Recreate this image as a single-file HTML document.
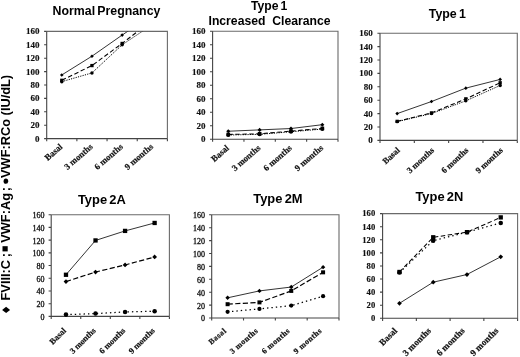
<!DOCTYPE html>
<html><head><meta charset="utf-8"><style>
html,body{margin:0;padding:0;background:#fff;}
body{width:520px;height:357px;overflow:hidden;}
svg{display:block;filter:grayscale(1) blur(0.35px);}
</style></head><body>
<svg width="520" height="357" viewBox="0 0 520 357">
<defs>
<clipPath id="cp1"><rect x="46.7" y="31.4" width="120.7" height="107.2"/></clipPath>
<clipPath id="cp2"><rect x="212.6" y="31.3" width="125.4" height="107.9"/></clipPath>
<clipPath id="cp3"><rect x="380" y="33.2" width="137.3" height="107.2"/></clipPath>
<clipPath id="cp4"><rect x="51.2" y="214.7" width="118.2" height="101.7"/></clipPath>
<clipPath id="cp5"><rect x="211.7" y="214.8" width="127.3" height="103.2"/></clipPath>
<clipPath id="cp6"><rect x="382.6" y="213.6" width="135" height="104.7"/></clipPath>
</defs>
<text x="106.5" y="15" text-anchor="middle" font-family='"Liberation Sans", sans-serif' font-weight="bold" font-size="12.35" word-spacing="-1.3" fill="#000">Normal Pregnancy</text>
<path d="M46.7 31.4H167.4V138.6" fill="none" stroke="#6a6a6a" stroke-width="1.1"/>
<path d="M46.7 31.4V138.6H167.4M44.1 138.6H46.7M44.1 125.2H46.7M44.1 111.8H46.7M44.1 98.4H46.7M44.1 85H46.7M44.1 71.6H46.7M44.1 58.2H46.7M44.1 44.8H46.7M44.1 31.4H46.7M46.7 138.6V141.2M76.88 138.6V141.2M107.05 138.6V141.2M137.23 138.6V141.2M167.4 138.6V141.2" fill="none" stroke="#444" stroke-width="1.1"/>
<g font-family='"Liberation Serif", serif' font-weight="bold" font-size="9" text-anchor="end" fill="#111" stroke="#111" stroke-width="0.15"><text x="39.5" y="141.57">0</text><text x="39.5" y="128.17">20</text><text x="39.5" y="114.77">40</text><text x="39.5" y="101.37">60</text><text x="39.5" y="87.97">80</text><text x="39.5" y="74.57">100</text><text x="39.5" y="61.17">120</text><text x="39.5" y="47.77">140</text><text x="39.5" y="34.37">160</text></g>
<g font-family='"Liberation Serif", serif' font-weight="bold" font-size="8.8" text-anchor="end" fill="#111" stroke="#111" stroke-width="0.2" letter-spacing="0"><text transform="translate(61.19 145.2) rotate(-41)" x="0" y="3.08">Basal</text><text transform="translate(91.36 145.2) rotate(-41)" x="0" y="3.08">3 months</text><text transform="translate(121.54 145.2) rotate(-41)" x="0" y="3.08">6 months</text><text transform="translate(151.71 145.2) rotate(-41)" x="0" y="3.08">9 months</text></g>
<g clip-path="url(#cp1)">
<path d="M61.79 74.95L91.96 56.19L122.14 35.09L152.31 14.65" fill="none" stroke="#000" stroke-width="0.8"/>
<path d="M61.79 80.31L91.96 65.57L122.14 43.46L152.31 20.01" fill="none" stroke="#000" stroke-width="1.05" stroke-dasharray="4.5 2.5"/>
<path d="M61.79 81.65L91.96 72.94L122.14 44.8L152.31 24.7" fill="none" stroke="#000" stroke-width="1" stroke-dasharray="1.2 1.2"/>
</g>
<g fill="#000">
<path d="M61.79 73.14L63.6 74.95L61.79 76.77L59.97 74.95Z"/>
<path d="M91.96 54.38L93.78 56.19L91.96 58L90.15 56.19Z"/>
<path d="M122.14 33.27L123.95 35.09L122.14 36.9L120.32 35.09Z"/>
<rect x="60.14" y="78.66" width="3.3" height="3.3"/>
<rect x="90.31" y="63.92" width="3.3" height="3.3"/>
<rect x="120.49" y="41.81" width="3.3" height="3.3"/>
<circle cx="61.79" cy="81.65" r="1.73"/>
<circle cx="91.96" cy="72.94" r="1.73"/>
<circle cx="122.14" cy="44.8" r="1.73"/>
</g>
<text x="269.2" y="10.1" text-anchor="middle" font-family='"Liberation Sans", sans-serif' font-weight="bold" font-size="12.2" word-spacing="-1.3" fill="#000">Type 1</text>
<text x="269.5" y="24.9" text-anchor="middle" font-family='"Liberation Sans", sans-serif' font-weight="bold" font-size="12.2" word-spacing="0" fill="#000">Increased&#160; Clearance</text>
<path d="M212.6 31.3H338V139.2" fill="none" stroke="#6a6a6a" stroke-width="1.1"/>
<path d="M212.6 31.3V139.2H338M210 139.2H212.6M210 125.71H212.6M210 112.22H212.6M210 98.74H212.6M210 85.25H212.6M210 71.76H212.6M210 58.27H212.6M210 44.79H212.6M210 31.3H212.6M212.6 139.2V141.8M243.95 139.2V141.8M275.3 139.2V141.8M306.65 139.2V141.8M338 139.2V141.8" fill="none" stroke="#444" stroke-width="1.1"/>
<g font-family='"Liberation Serif", serif' font-weight="bold" font-size="9" text-anchor="end" fill="#111" stroke="#111" stroke-width="0.15"><text x="205.4" y="142.17">0</text><text x="205.4" y="128.68">20</text><text x="205.4" y="115.19">40</text><text x="205.4" y="101.71">60</text><text x="205.4" y="88.22">80</text><text x="205.4" y="74.73">100</text><text x="205.4" y="61.24">120</text><text x="205.4" y="47.76">140</text><text x="205.4" y="34.27">160</text></g>
<g font-family='"Liberation Serif", serif' font-weight="bold" font-size="8.8" text-anchor="end" fill="#111" stroke="#111" stroke-width="0.2" letter-spacing="0"><text transform="translate(227.68 146.5) rotate(-41)" x="0" y="3.08">Basal</text><text transform="translate(259.02 146.5) rotate(-41)" x="0" y="3.08">3 months</text><text transform="translate(290.38 146.5) rotate(-41)" x="0" y="3.08">6 months</text><text transform="translate(321.72 146.5) rotate(-41)" x="0" y="3.08">9 months</text></g>
<g clip-path="url(#cp2)">
<path d="M228.28 131.24L259.62 129.89L290.98 128.54L322.32 124.7" fill="none" stroke="#000" stroke-width="0.8"/>
<path d="M228.28 134.48L259.62 133.8L290.98 131.11L322.32 128.41" fill="none" stroke="#000" stroke-width="1.05" stroke-dasharray="4.5 2.5"/>
<path d="M228.28 135.02L259.62 134.34L290.98 131.78L322.32 129.08" fill="none" stroke="#000" stroke-width="1" stroke-dasharray="1.2 1.2"/>
</g>
<g fill="#000">
<path d="M228.28 129.21L230.31 131.24L228.28 133.28L226.24 131.24Z"/>
<path d="M259.62 127.86L261.66 129.89L259.62 131.93L257.59 129.89Z"/>
<path d="M290.98 126.51L293.01 128.54L290.98 130.58L288.94 128.54Z"/>
<path d="M322.32 122.67L324.36 124.7L322.32 126.74L320.29 124.7Z"/>
<rect x="226.43" y="132.63" width="3.7" height="3.7"/>
<rect x="257.77" y="131.95" width="3.7" height="3.7"/>
<rect x="289.12" y="129.26" width="3.7" height="3.7"/>
<rect x="320.47" y="126.56" width="3.7" height="3.7"/>
<circle cx="228.28" cy="135.02" r="1.94"/>
<circle cx="259.62" cy="134.34" r="1.94"/>
<circle cx="290.98" cy="131.78" r="1.94"/>
<circle cx="322.32" cy="129.08" r="1.94"/>
</g>
<text x="447.3" y="18.2" text-anchor="middle" font-family='"Liberation Sans", sans-serif' font-weight="bold" font-size="12.4" word-spacing="-1.3" fill="#000">Type 1</text>
<path d="M380 33.2H517.3V140.4" fill="none" stroke="#6a6a6a" stroke-width="1.1"/>
<path d="M380 33.2V140.4H517.3M377.4 140.4H380M377.4 127H380M377.4 113.6H380M377.4 100.2H380M377.4 86.8H380M377.4 73.4H380M377.4 60H380M377.4 46.6H380M377.4 33.2H380M380 140.4V143M414.32 140.4V143M448.65 140.4V143M482.97 140.4V143M517.3 140.4V143" fill="none" stroke="#444" stroke-width="1.1"/>
<g font-family='"Liberation Serif", serif' font-weight="bold" font-size="9" text-anchor="end" fill="#111" stroke="#111" stroke-width="0.15"><text x="372.8" y="143.37">0</text><text x="372.8" y="129.97">20</text><text x="372.8" y="116.57">40</text><text x="372.8" y="103.17">60</text><text x="372.8" y="89.77">80</text><text x="372.8" y="76.37">100</text><text x="372.8" y="62.97">120</text><text x="372.8" y="49.57">140</text><text x="372.8" y="36.17">160</text></g>
<g font-family='"Liberation Serif", serif' font-weight="bold" font-size="8.6" text-anchor="end" fill="#111" stroke="#111" stroke-width="0.2" letter-spacing="0"><text transform="translate(398.36 148.7) rotate(-43)" x="0" y="3.01">Basal</text><text transform="translate(432.69 148.7) rotate(-43)" x="0" y="3.01">3 months</text><text transform="translate(467.01 148.7) rotate(-43)" x="0" y="3.01">6 months</text><text transform="translate(501.34 148.7) rotate(-43)" x="0" y="3.01">9 months</text></g>
<g clip-path="url(#cp3)">
<path d="M397.16 113.6L431.49 101.54L465.81 88.14L500.14 79.43" fill="none" stroke="#000" stroke-width="0.8"/>
<path d="M397.16 121.37L431.49 112.93L465.81 98.86L500.14 82.78" fill="none" stroke="#000" stroke-width="1.05" stroke-dasharray="4.5 2.5"/>
<path d="M397.16 121.64L431.49 113.6L465.81 100.87L500.14 85.46" fill="none" stroke="#000" stroke-width="1" stroke-dasharray="1.2 1.2"/>
</g>
<g fill="#000">
<path d="M397.16 111.79L398.98 113.6L397.16 115.42L395.35 113.6Z"/>
<path d="M431.49 99.73L433.3 101.54L431.49 103.36L429.67 101.54Z"/>
<path d="M465.81 86.33L467.63 88.14L465.81 89.95L464 88.14Z"/>
<path d="M500.14 77.62L501.95 79.43L500.14 81.25L498.32 79.43Z"/>
<rect x="395.51" y="119.72" width="3.3" height="3.3"/>
<rect x="429.84" y="111.28" width="3.3" height="3.3"/>
<rect x="464.16" y="97.21" width="3.3" height="3.3"/>
<rect x="498.49" y="81.13" width="3.3" height="3.3"/>
<circle cx="397.16" cy="121.64" r="1.73"/>
<circle cx="431.49" cy="113.6" r="1.73"/>
<circle cx="465.81" cy="100.87" r="1.73"/>
<circle cx="500.14" cy="85.46" r="1.73"/>
</g>
<text x="101.9" y="203.6" text-anchor="middle" font-family='"Liberation Sans", sans-serif' font-weight="bold" font-size="12.9" word-spacing="-1.3" fill="#000">Type 2A</text>
<path d="M51.2 214.7H169.4V316.4" fill="none" stroke="#6a6a6a" stroke-width="1.1"/>
<path d="M51.2 214.7V316.4H169.4M48.6 316.4H51.2M48.6 303.69H51.2M48.6 290.97H51.2M48.6 278.26H51.2M48.6 265.55H51.2M48.6 252.84H51.2M48.6 240.12H51.2M48.6 227.41H51.2M48.6 214.7H51.2M51.2 316.4V319M80.75 316.4V319M110.3 316.4V319M139.85 316.4V319M169.4 316.4V319" fill="none" stroke="#444" stroke-width="1.1"/>
<g font-family='"Liberation Serif", serif' font-weight="normal" font-size="8" text-anchor="end" fill="#111" stroke="#111" stroke-width="0.3"><text x="44.4" y="319.84">0</text><text x="44.4" y="307.13">20</text><text x="44.4" y="294.41">40</text><text x="44.4" y="281.7">60</text><text x="44.4" y="268.99">80</text><text x="44.4" y="256.28">100</text><text x="44.4" y="243.56">120</text><text x="44.4" y="230.85">140</text><text x="44.4" y="218.14">160</text></g>
<g font-family='"Liberation Serif", serif' font-weight="bold" font-size="8.4" text-anchor="end" fill="#111" stroke="#111" stroke-width="0.2" letter-spacing="0"><text transform="translate(64.58 329) rotate(-45)" x="0" y="2.94">Basal</text><text transform="translate(94.12 329) rotate(-45)" x="0" y="2.94">3 months</text><text transform="translate(123.67 329) rotate(-45)" x="0" y="2.94">6 months</text><text transform="translate(153.22 329) rotate(-45)" x="0" y="2.94">9 months</text></g>
<g clip-path="url(#cp4)">
<path d="M65.98 274.77L95.53 240.44L125.08 230.91L154.62 222.96" fill="none" stroke="#000" stroke-width="0.8"/>
<path d="M65.98 281.57L95.53 272.03L125.08 264.98L154.62 256.97" fill="none" stroke="#000" stroke-width="1.2" stroke-dasharray="5.2 2.4"/>
<path d="M65.98 314.62L95.53 313.6L125.08 311.89L154.62 311.31" fill="none" stroke="#000" stroke-width="1.25" stroke-dasharray="1.4 3"/>
</g>
<g fill="#000">
<rect x="63.83" y="272.62" width="4.3" height="4.3"/>
<rect x="93.38" y="238.29" width="4.3" height="4.3"/>
<rect x="122.92" y="228.76" width="4.3" height="4.3"/>
<rect x="152.47" y="220.81" width="4.3" height="4.3"/>
<path d="M65.98 279.2L68.34 281.57L65.98 283.93L63.61 281.57Z"/>
<path d="M95.53 269.67L97.89 272.03L95.53 274.4L93.16 272.03Z"/>
<path d="M125.08 262.61L127.44 264.98L125.08 267.34L122.71 264.98Z"/>
<path d="M154.62 254.6L156.99 256.97L154.62 259.33L152.26 256.97Z"/>
<circle cx="65.98" cy="314.62" r="2.26"/>
<circle cx="95.53" cy="313.6" r="2.26"/>
<circle cx="125.08" cy="311.89" r="2.26"/>
<circle cx="154.62" cy="311.31" r="2.26"/>
</g>
<text x="277.9" y="203.4" text-anchor="middle" font-family='"Liberation Sans", sans-serif' font-weight="bold" font-size="12.9" word-spacing="-1.3" fill="#000">Type 2M</text>
<path d="M211.7 214.8H339V318" fill="none" stroke="#6a6a6a" stroke-width="1.1"/>
<path d="M211.7 214.8V318H339M209.1 318H211.7M209.1 305.1H211.7M209.1 292.2H211.7M209.1 279.3H211.7M209.1 266.4H211.7M209.1 253.5H211.7M209.1 240.6H211.7M209.1 227.7H211.7M209.1 214.8H211.7M211.7 318V320.6M243.52 318V320.6M275.35 318V320.6M307.18 318V320.6M339 318V320.6" fill="none" stroke="#444" stroke-width="1.1"/>
<g font-family='"Liberation Serif", serif' font-weight="normal" font-size="8" text-anchor="end" fill="#111" stroke="#111" stroke-width="0.3"><text x="204.9" y="321.44">0</text><text x="204.9" y="308.54">20</text><text x="204.9" y="295.64">40</text><text x="204.9" y="282.74">60</text><text x="204.9" y="269.84">80</text><text x="204.9" y="256.94">100</text><text x="204.9" y="244.04">120</text><text x="204.9" y="231.14">140</text><text x="204.9" y="218.24">160</text></g>
<g font-family='"Liberation Serif", serif' font-weight="bold" font-size="8" text-anchor="end" fill="#111" stroke="#111" stroke-width="0.2" letter-spacing="0.4"><text transform="translate(225.01 329.4) rotate(-41)" x="0" y="2.8">Basal</text><text transform="translate(256.84 329.4) rotate(-41)" x="0" y="2.8">3 months</text><text transform="translate(288.66 329.4) rotate(-41)" x="0" y="2.8">6 months</text><text transform="translate(320.49 329.4) rotate(-41)" x="0" y="2.8">9 months</text></g>
<g clip-path="url(#cp5)">
<path d="M227.61 297.81L259.44 290.91L291.26 287.04L323.09 267.17" fill="none" stroke="#000" stroke-width="0.8"/>
<path d="M227.61 304.2L259.44 302.39L291.26 290.91L323.09 272.33" fill="none" stroke="#000" stroke-width="1.2" stroke-dasharray="5.2 2.4"/>
<path d="M227.61 311.81L259.44 308.91L291.26 305.62L323.09 296.2" fill="none" stroke="#000" stroke-width="1.25" stroke-dasharray="1.4 3"/>
</g>
<g fill="#000">
<path d="M227.61 295.61L229.81 297.81L227.61 300.01L225.41 297.81Z"/>
<path d="M259.44 288.71L261.64 290.91L259.44 293.11L257.24 290.91Z"/>
<path d="M291.26 284.84L293.46 287.04L291.26 289.24L289.06 287.04Z"/>
<path d="M323.09 264.97L325.29 267.17L323.09 269.37L320.89 267.17Z"/>
<rect x="225.61" y="302.2" width="4" height="4"/>
<rect x="257.44" y="300.39" width="4" height="4"/>
<rect x="289.26" y="288.91" width="4" height="4"/>
<rect x="321.09" y="270.33" width="4" height="4"/>
<circle cx="227.61" cy="311.81" r="2.1"/>
<circle cx="259.44" cy="308.91" r="2.1"/>
<circle cx="291.26" cy="305.62" r="2.1"/>
<circle cx="323.09" cy="296.2" r="2.1"/>
</g>
<text x="439.4" y="201.3" text-anchor="middle" font-family='"Liberation Sans", sans-serif' font-weight="bold" font-size="12.9" word-spacing="-1.3" fill="#000">Type 2N</text>
<path d="M382.6 213.6H517.6V318.3" fill="none" stroke="#6a6a6a" stroke-width="1.1"/>
<path d="M382.6 213.6V318.3H517.6M380 318.3H382.6M380 305.21H382.6M380 292.12H382.6M380 279.04H382.6M380 265.95H382.6M380 252.86H382.6M380 239.77H382.6M380 226.69H382.6M380 213.6H382.6M382.6 318.3V320.9M416.35 318.3V320.9M450.1 318.3V320.9M483.85 318.3V320.9M517.6 318.3V320.9" fill="none" stroke="#444" stroke-width="1.1"/>
<g font-family='"Liberation Serif", serif' font-weight="bold" font-size="8.6" text-anchor="end" fill="#111" stroke="#111" stroke-width="0.15"><text x="375.2" y="321.14">0</text><text x="375.2" y="308.05">20</text><text x="375.2" y="294.96">40</text><text x="375.2" y="281.88">60</text><text x="375.2" y="268.79">80</text><text x="375.2" y="255.7">100</text><text x="375.2" y="242.61">120</text><text x="375.2" y="229.53">140</text><text x="375.2" y="216.44">160</text></g>
<g font-family='"Liberation Serif", serif' font-weight="bold" font-size="9.1" text-anchor="end" fill="#111" stroke="#111" stroke-width="0.2" letter-spacing="0"><text transform="translate(395.48 329.1) rotate(-45)" x="0" y="3.18">Basal</text><text transform="translate(429.23 329.1) rotate(-45)" x="0" y="3.18">3 months</text><text transform="translate(462.98 329.1) rotate(-45)" x="0" y="3.18">6 months</text><text transform="translate(496.73 329.1) rotate(-45)" x="0" y="3.18">9 months</text></g>
<g clip-path="url(#cp6)">
<path d="M399.48 271.97L433.23 237.29L466.98 232.18L500.73 217.4" fill="none" stroke="#000" stroke-width="1.05" stroke-dasharray="4.5 2.5"/>
<path d="M399.48 272.49L433.23 240.63L466.98 232.18L500.73 222.89" fill="none" stroke="#000" stroke-width="1.25" stroke-dasharray="1.4 3"/>
<path d="M399.48 303.31L433.23 282.18L466.98 274.52L500.73 256.79" fill="none" stroke="#000" stroke-width="0.8"/>
</g>
<g fill="#000">
<rect x="397.33" y="269.82" width="4.3" height="4.3"/>
<rect x="431.08" y="235.14" width="4.3" height="4.3"/>
<rect x="464.83" y="230.03" width="4.3" height="4.3"/>
<rect x="498.58" y="215.25" width="4.3" height="4.3"/>
<circle cx="399.48" cy="272.49" r="2.26"/>
<circle cx="433.23" cy="240.63" r="2.26"/>
<circle cx="466.98" cy="232.18" r="2.26"/>
<circle cx="500.73" cy="222.89" r="2.26"/>
<path d="M399.48 300.95L401.84 303.31L399.48 305.68L397.11 303.31Z"/>
<path d="M433.23 279.81L435.59 282.18L433.23 284.54L430.86 282.18Z"/>
<path d="M466.98 272.16L469.34 274.52L466.98 276.89L464.61 274.52Z"/>
<path d="M500.73 254.42L503.09 256.79L500.73 259.15L498.36 256.79Z"/>
</g>
<g font-family='"Liberation Sans", sans-serif' font-weight="bold" font-size="12.8" fill="#000">
<text transform="translate(9.7 280.2) rotate(-90)" text-anchor="middle">FVIII:C</text>
<text transform="translate(9.7 255.2) rotate(-90)" text-anchor="middle">;</text>
<text transform="translate(9.7 217.9) rotate(-90)" text-anchor="middle">VWF:Ag</text>
<text transform="translate(9.7 189) rotate(-90)" text-anchor="middle">;</text>
<text transform="translate(9.7 126.4) rotate(-90)" text-anchor="middle">VWF:RCo (IU/dL)</text>
</g>
<path d="M6.1 306.8L10.1 309.9L6.1 313L2.1 309.9Z" fill="#000"/>
<rect x="2.5" y="246.2" width="5.2" height="5.2" fill="#000"/>
<ellipse cx="5.9" cy="181.2" rx="2.3" ry="2.6" fill="#000"/>
</svg>
</body></html>
